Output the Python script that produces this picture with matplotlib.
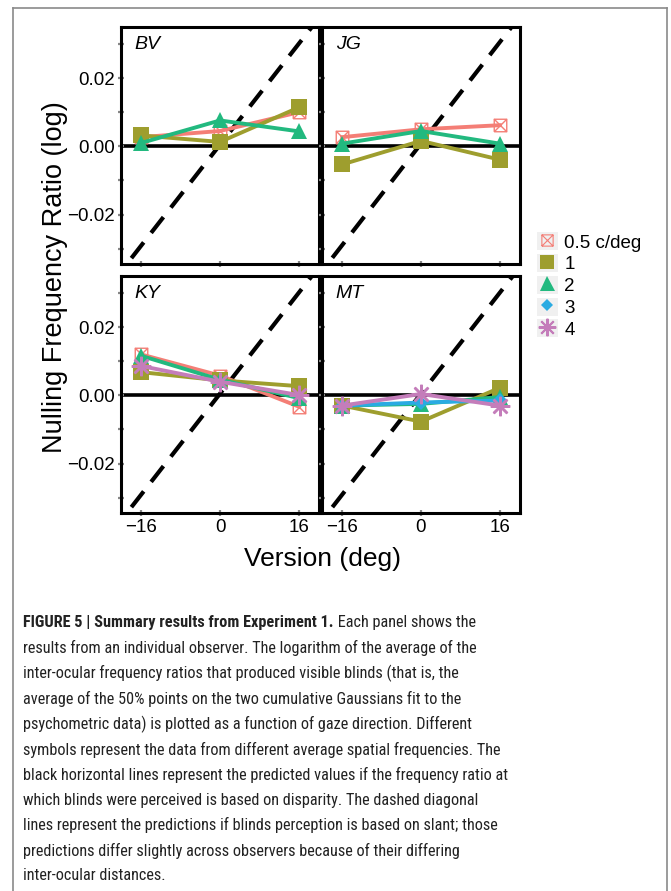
import matplotlib
matplotlib.use("Agg")
import matplotlib.pyplot as plt
from matplotlib.lines import Line2D
from matplotlib.patches import Patch
from matplotlib.path import Path

plt.rcParams['font.family'] = ['Liberation Sans', 'DejaVu Sans']

# data (log nulling frequency ratio)
versions = [-16, 0, 16]
observers = ['BV', 'JG', 'KY', 'MT']
freq_labels = ['0.5 c/deg', '1', '2', '3', '4']

bv = {'0.5 c/deg': [0.0027, 0.0045, 0.0100],
      '1': [0.0032, 0.0013, 0.0114],
      '2': [0.0010, 0.0076, 0.0044]}
jg = {'0.5 c/deg': [0.0027, 0.0050, 0.0062],
      '1': [-0.0053, 0.0016, -0.0039],
      '2': [0.0008, 0.0045, 0.0008]}
ky = {'0.5 c/deg': [0.0120, 0.0058, -0.0033],
      '1': [0.0068, 0.0044, 0.0027],
      '2': [0.0116, 0.0046, -0.0008],
      '4': [0.0086, 0.0040, 0.0001]}
mt = {'1': [-0.0030, -0.0077, 0.0022],
      '2': [-0.0030, -0.0025, -0.0005],
      '3': [-0.0030, -0.0021, -0.0015],
      '4': [-0.0030, 0.0004, -0.0030]}
panel_data = [bv, jg, ky, mt]

# slant prediction (dashed diagonal), slope per observer
slant_slope = [0.00185, 0.00186, 0.00185, 0.00185]
slant_icpt = [0.0005, 0.0008, 0.0005, 0.0005]

colors = {'0.5 c/deg': '#F47E76', '1': '#9E9E2E', '2': '#22B97F',
          '3': '#2AABE2', '4': '#C47DBA'}

sq_x = Path([(-1, -1), (1, -1), (1, 1), (-1, 1), (-1, -1), (-1, -1), (1, 1), (-1, 1), (1, -1)],
            [Path.MOVETO, Path.LINETO, Path.LINETO, Path.LINETO, Path.LINETO,
             Path.MOVETO, Path.LINETO, Path.MOVETO, Path.LINETO])
marker_style = {
    '0.5 c/deg': dict(marker=sq_x, markersize=9, mfc='none', mew=1.0),
    '1': dict(marker='s', markersize=11, mew=0),
    '2': dict(marker='^', markersize=12, mew=0),
    '3': dict(marker='D', markersize=7, mew=0),
    '4': dict(marker=(8, 2, 0), markersize=14, mew=1.8),
}

fig = plt.figure(figsize=(6.71, 8.91), dpi=100)
W, H = 671.0, 891.0

lefts = [121, 322]
tops = [27, 276]
pw, ph = 198, 237

for i, name in enumerate(observers):
    r, c = divmod(i, 2)
    ax = fig.add_axes([lefts[c] / W, 1 - (tops[r] + ph) / H, pw / W, ph / H])
    ax.set_xlim(-20.1, 20.1)
    ax.set_ylim(-0.0345, 0.035)
    ax.axhline(0, color='black', lw=2.6, zorder=1)
    xs = [-22, 22]
    ax.plot(xs, [slant_slope[i] * x + slant_icpt[i] for x in xs], color='black',
            lw=3.0, dashes=(4.8, 2.9), zorder=1)
    for lab in freq_labels:
        if lab in panel_data[i]:
            ms = marker_style[lab]
            ax.plot(versions, panel_data[i][lab], color=colors[lab], lw=2.8,
                    mec=colors[lab], mfc=ms.get('mfc', colors[lab]),
                    marker=ms['marker'], markersize=ms['markersize'], mew=ms['mew'],
                    zorder=3, clip_on=False)
    ax.text(0.07, 0.96, name, transform=ax.transAxes, ha='left', va='top',
            fontsize=14, style='italic')
    ax.set_xticks(versions)
    ax.set_yticks([-0.03, -0.02, -0.01, 0.0, 0.01, 0.02, 0.03])
    if c == 0:
        ax.set_yticklabels(['', '\u22120.02', '', '0.00', '', '0.02', ''])
    else:
        ax.set_yticklabels([])
    if r == 1:
        ax.set_xticklabels(['\u221216', '0', '16'])
    else:
        ax.set_xticklabels([])
    ax.tick_params(direction='inout', length=5, width=1.6, color='#888888',
                   labelsize=13.5, pad=2)
    for s in ax.spines.values():
        s.set_linewidth(2.2)
        s.set_color('black')

fig.text(55 / W, 1 - 277 / H, 'Nulling Frequency Ratio (log)', rotation=90,
         ha='center', va='center', fontsize=19.5)
fig.text(322 / W, 1 - 559 / H, 'Version (deg)', ha='center', va='center', fontsize=19)

# legend with grey key backgrounds like ggplot
handles = []
for lab in freq_labels:
    ms = marker_style[lab]
    handles.append((Patch(facecolor='#F0F0F0', edgecolor='none'),
                    Line2D([], [], ls='none', color=colors[lab], mec=colors[lab],
                           mfc=ms.get('mfc', colors[lab]), marker=ms['marker'],
                           markersize=ms['markersize'] * 0.9, mew=ms['mew'] * 0.8)))
fig.legend(handles, freq_labels, loc='upper left',
           bbox_to_anchor=(524 / W, 1 - 219 / H), frameon=False, fontsize=13.5,
           handlelength=1.1, handleheight=1.1, handletextpad=0.35, labelspacing=0.13,
           borderpad=0.2)

# outer frame
frame_col = '#8a8a8a'
fig.add_artist(Line2D([13 / W, 13 / W], [0, 1 - 8 / H], color=frame_col, lw=1.2))
fig.add_artist(Line2D([13 / W, 667 / W], [1 - 8 / H, 1 - 8 / H], color=frame_col, lw=1.2))
fig.add_artist(Line2D([667 / W, 667 / W], [0, 1 - 8 / H], color=frame_col, lw=1.2))

# caption (condensed face if there is one, else Roboto)
cap_font = ['Roboto Condensed', 'Archivo Narrow', 'PT Sans Narrow', 'Roboto', 'DejaVu Sans']
cap_lines = [
    "results from an individual observer. The logarithm of the average of the",
    "inter-ocular frequency ratios that produced visible blinds (that is, the",
    "average of the 50% points on the two cumulative Gaussians fit to the",
    "psychometric data) is plotted as a function of gaze direction. Different",
    "symbols represent the data from different average spatial frequencies. The",
    "black horizontal lines represent the predicted values if the frequency ratio at",
    "which blinds were perceived is based on disparity. The dashed diagonal",
    "lines represent the predictions if blinds perception is based on slant; those",
    "predictions differ slightly across observers because of their differing",
    "inter-ocular distances.",
]
# pick a size so the widest caption line fits the width it has in the figure
renderer = fig.canvas.get_renderer()
probe = fig.text(0, 0, cap_lines[5], family=cap_font, fontsize=12)
wpx = probe.get_window_extent(renderer).width
probe.remove()
cap_size = min(13.5, 12 * 487.0 / wpx)

y0 = 623
step = 25.3
t = fig.text(23 / W, 1 - y0 / H, 'FIGURE 5 | Summary results from Experiment 1.',
             family=cap_font, weight='bold', fontsize=cap_size, va='center', ha='left',
             color='#222222')
fig.add_artist(plt.Annotation(' Each panel shows the', xy=(1, 0.5), xycoords=t,
                              va='center', ha='left', family=cap_font,
                              fontsize=cap_size, color='#222222',
                              annotation_clip=False))
for k, line in enumerate(cap_lines):
    fig.text(23 / W, 1 - (y0 + step * (k + 1)) / H, line, family=cap_font,
             fontsize=cap_size, va='center', ha='left', color='#222222')

fig.savefig('out.png', dpi=100)
